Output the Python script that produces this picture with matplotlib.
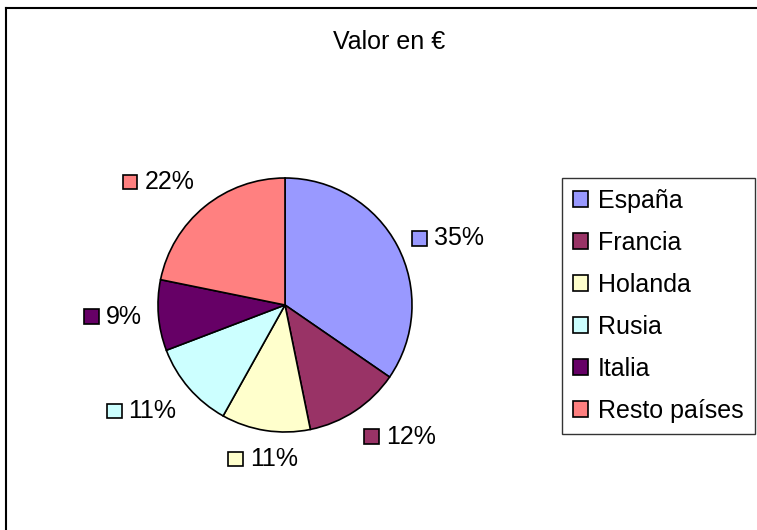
import numpy as np
import matplotlib.pyplot as plt
from matplotlib.patches import Rectangle
from matplotlib.lines import Line2D
from matplotlib.offsetbox import AnnotationBbox, HPacker, DrawingArea, TextArea

plt.rcParams['font.family'] = ['Liberation Sans', 'DejaVu Sans']

# data
paises = ['España', 'Francia', 'Holanda', 'Rusia', 'Italia', 'Resto países']
valores = [34.6, 12.2, 11.3, 11.1, 9.0, 21.8]
colores = ['#9999ff', '#993366', '#ffffcc', '#ccffff', '#660066', '#ff8080']

W, H = 757, 530
fig = plt.figure(figsize=(W / 100, H / 100), dpi=100)

# frame lines (top and left only visible in the original)
fig.add_artist(Line2D([6 / W, 1], [1 - 8 / H, 1 - 8 / H], color='black', lw=1.5))
fig.add_artist(Line2D([6 / W, 6 / W], [0, 1 - 8 / H], color='black', lw=1.5))

fig.text(389 / W, 1 - 42 / H, 'Valor en €', ha='center', va='center', fontsize=18)

# pie axes: centre (285, 305), radius 127 px
cx, cy, r = 285, 305, 127
ax = fig.add_axes([(cx - r) / W, (H - cy - r) / H, 2 * r / W, 2 * r / H])
wedges, _ = ax.pie(valores, colors=colores, startangle=90, counterclock=False,
                   wedgeprops=dict(edgecolor='black', linewidth=1.2))
ax.set_xlim(-1, 1)
ax.set_ylim(-1, 1)

# data labels with little colour key
for w, v, c in zip(wedges, valores, colores):
    ang = np.deg2rad((w.theta1 + w.theta2) / 2)
    ca, sa = np.cos(ang), np.sin(ang)
    bx = 0.0 if ca > 0.3 else (1.0 if ca < -0.3 else 0.5)
    by = 0.0 if sa > 0.5 else (1.0 if sa < -0.5 else 0.5)
    da = DrawingArea(10.5, 10.5, 0, 0)
    da.add_artist(Rectangle((0, 0), 10.5, 10.5, facecolor=c, edgecolor='black', lw=1.2))
    ta = TextArea('%.0f%%' % v, textprops=dict(fontsize=18))
    box = HPacker(children=[da, ta], align='center', pad=0, sep=5)
    d = 1.13
    ab = AnnotationBbox(box, (d * ca, d * sa), xycoords='data', box_alignment=(bx, by),
                        frameon=False, pad=0, annotation_clip=False)
    ax.add_artist(ab)

leg = fig.legend(wedges, paises, loc='upper right', bbox_to_anchor=(755 / W, 1 - 178 / H),
                 borderaxespad=0, fontsize=18, frameon=True, fancybox=False,
                 edgecolor='black', handlelength=0.6, handleheight=0.6,
                 handletextpad=0.4, labelspacing=0.72, borderpad=0.45)
leg.get_frame().set_linewidth(1)
for h in leg.legend_handles:
    h.set_linewidth(1.2)

fig.savefig('out.png', dpi=100)
